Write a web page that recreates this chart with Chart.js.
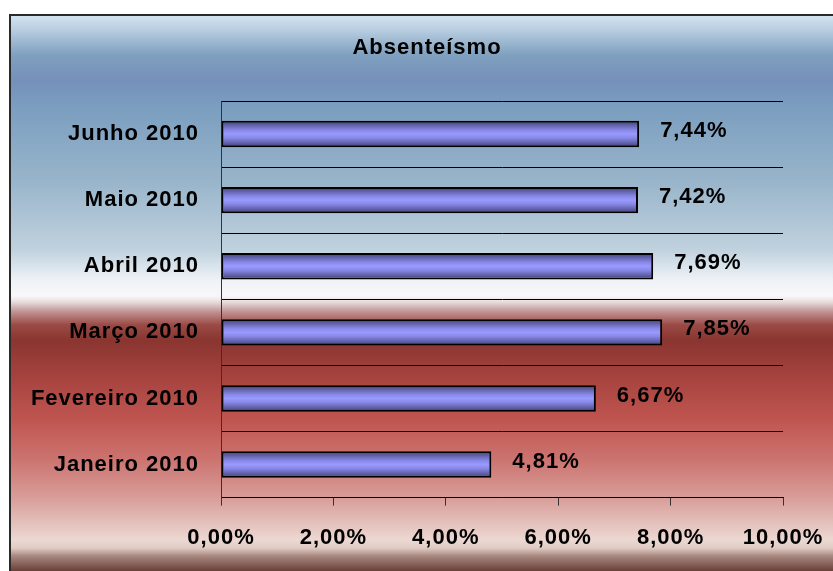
<!DOCTYPE html>
<html>
<head>
<meta charset="utf-8">
<script src="https://cdn.jsdelivr.net/npm/chart.js@4"></script>
<style>
    body { margin: 0; background: #ffffff; }
    canvas { display: block; }
</style>
</head>
<body>
<canvas id="absChart" width="833" height="571"></canvas>
<script>
// Data (oldest month first, drawn bottom to top)
const months = ['Janeiro 2010', 'Fevereiro 2010', 'Março 2010', 'Abril 2010', 'Maio 2010', 'Junho 2010'];
const absenteeism = [4.81, 6.67, 7.85, 7.69, 7.42, 7.44];
const axisTicks = [0, 2, 4, 6, 8, 10];

// Format a number the Portuguese way: 7.44 -> "7,44%"
function formatPercent(v) {
    return v.toFixed(2).replace('.', ',') + '%';
}

// Background of the whole chart: blue on top, red below
const backgroundPlugin = {
    id: 'backgroundPlugin',
    beforeDraw(chart) {
        const ctx = chart.ctx;
        const grad = ctx.createLinearGradient(0, 14, 0, 571);
        const stops = [
            [14, '#d6e6f2'], [30, '#b8cde0'], [55, '#7fa0bf'], [80, '#7590ba'],
            [110, '#7c9fc0'], [180, '#98b4ca'], [250, '#c0d2de'], [280, '#eef2f6'],
            [296, '#f8f8fa'], [302, '#e8dcdc'], [312, '#c09090'], [325, '#9a4a45'],
            [340, '#8a3530'], [380, '#a84440'], [420, '#c05550'], [460, '#cc7470'],
            [500, '#d9a09c'], [540, '#ecd8d2'], [548, '#e0ccc5'], [556, '#a88880'],
            [571, '#6a4038']
        ];
        stops.forEach(s => grad.addColorStop((s[0] - 14) / (571 - 14), s[1]));
        ctx.save();
        ctx.fillStyle = grad;
        ctx.fillRect(9, 14, chart.width - 9, chart.height - 14);
        ctx.strokeStyle = '#2a2a2a';
        ctx.lineWidth = 2;
        ctx.beginPath();
        ctx.moveTo(10, chart.height);
        ctx.lineTo(10, 15);
        ctx.lineTo(chart.width, 15);
        ctx.stroke();
        ctx.restore();
        ctx.letterSpacing = '1px';
    }
};

// Value labels to the right of each bar
const valueLabels = {
    id: 'valueLabels',
    afterDatasetsDraw(chart) {
        const ctx = chart.ctx;
        const meta = chart.getDatasetMeta(0);
        ctx.save();
        ctx.font = 'bold 22px "Liberation Sans", Arial, sans-serif';
        ctx.fillStyle = '#000000';
        ctx.textAlign = 'left';
        ctx.textBaseline = 'middle';
        meta.data.forEach((bar, i) => {
            ctx.fillText(formatPercent(absenteeism[i]), bar.x + 21, bar.y - 3);
        });
        ctx.restore();
    }
};

// Vertical shading of each bar
function barFill(context) {
    const chart = context.chart;
    if (!chart.chartArea) {
        return '#9a9aff';
    }
    const yScale = chart.scales.y;
    const center = yScale.getPixelForValue(context.dataIndex);
    const half = 13;
    const g = chart.ctx.createLinearGradient(0, center - half, 0, center + half);
    g.addColorStop(0, '#404070');
    g.addColorStop(0.15, '#6060a8');
    g.addColorStop(0.35, '#8888e8');
    g.addColorStop(0.5, '#9a9aff');
    g.addColorStop(0.65, '#8888e8');
    g.addColorStop(0.85, '#6060a8');
    g.addColorStop(1, '#404070');
    return g;
}

const labelFont = { family: '"Liberation Sans", Arial, sans-serif', size: 22, weight: 'bold' };

var ctx = document.getElementById('absChart').getContext('2d');
var absChart = new Chart(ctx, {
    type: 'bar',
    data: {
        labels: months,
        datasets: [{
            label: 'Absenteísmo',
            data: absenteeism,
            backgroundColor: barFill,
            borderColor: '#000000',
            borderWidth: 2,
            borderSkipped: false,
            barPercentage: 0.4,
            categoryPercentage: 1
        }]
    },
    options: {
        indexAxis: 'y',
        responsive: false,
        animation: false,
        layout: {
            padding: { left: 21, top: 14, right: 0, bottom: 0 }
        },
        plugins: {
            legend: { display: false },
            tooltip: { enabled: false },
            title: {
                display: true,
                text: 'Absenteísmo',
                color: '#000000',
                font: labelFont,
                padding: { top: 21, bottom: 39.6 }
            }
        },
        scales: {
            x: {
                min: axisTicks[0],
                max: axisTicks[axisTicks.length - 1],
                afterBuildTicks(scale) {
                    scale.ticks = axisTicks.map(v => ({ value: v }));
                },
                afterFit(scale) {
                    scale.paddingRight = 50;
                },
                grid: {
                    drawOnChartArea: false,
                    drawTicks: true,
                    tickLength: 8,
                    color: '#333333'
                },
                border: { display: true, color: '#000000' },
                ticks: {
                    color: '#000000',
                    font: labelFont,
                    padding: 19.5,
                    maxRotation: 0,
                    callback: value => formatPercent(value)
                }
            },
            y: {
                reverse: true,
                afterFit(scale) {
                    scale.width = 200;
                },
                grid: {
                    color: '#000000',
                    lineWidth: 1,
                    drawTicks: false
                },
                border: { display: true, color: '#333333' },
                ticks: {
                    color: '#000000',
                    font: labelFont,
                    padding: 22
                }
            }
        }
    },
    plugins: [backgroundPlugin, valueLabels]
});
</script>
</body>
</html>
